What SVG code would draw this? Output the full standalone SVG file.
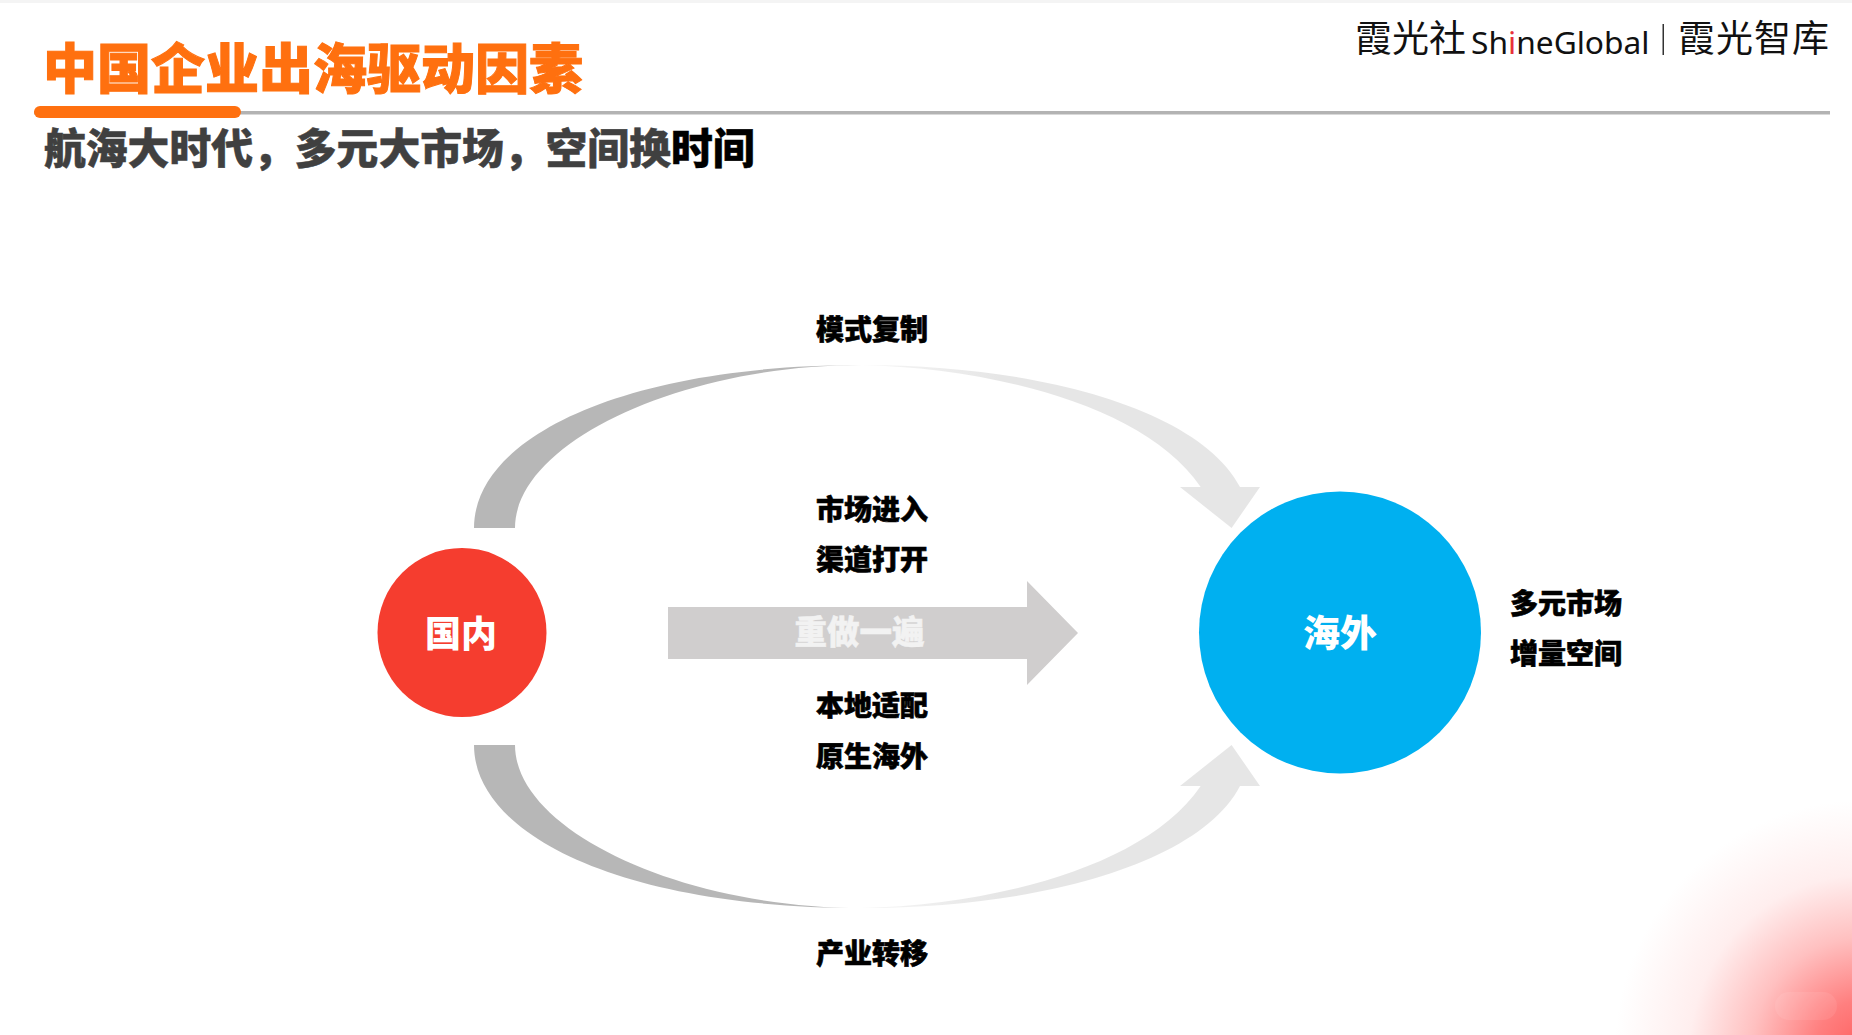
<svg xmlns="http://www.w3.org/2000/svg" width="1852" height="1035" viewBox="0 0 1852 1035">
<style>
text{font-family:"Noto Sans CJK SC","Noto Sans",sans-serif}
.lb{font-size:28px;font-weight:900;fill:#000;text-anchor:middle;stroke:#000;stroke-width:.6}
.nd{font-weight:900;fill:#fff;text-anchor:middle}
.logo{font-size:37px;font-weight:400;fill:#111}
.dark{fill:url(#fl)}.light{fill:url(#fr)}
</style>
<defs>
<radialGradient id="glow" gradientUnits="userSpaceOnUse" cx="1865" cy="1050" r="250">
<stop offset="0" stop-color="#ff5f5f"/><stop offset=".2" stop-color="#ff7f7f"/><stop offset=".45" stop-color="#ffc0c0"/><stop offset=".7" stop-color="#ffeeee"/><stop offset="1" stop-color="#fff"/>
</radialGradient>
<linearGradient id="fl" x1="474" x2="862" y1="0" y2="0" gradientUnits="userSpaceOnUse"><stop offset="0" stop-color="#b7b7b7"/><stop offset=".88" stop-color="#b7b7b7"/><stop offset="1" stop-color="#e0e0e0"/></linearGradient>
<linearGradient id="fr" x1="862" x2="1000" y1="0" y2="0" gradientUnits="userSpaceOnUse"><stop offset="0" stop-color="#f6f6f6"/><stop offset="1" stop-color="#e6e6e6"/></linearGradient>
</defs>
<rect width="1852" height="1035" fill="#fff"/>
<rect width="1852" height="3" fill="#f4f4f4"/>
<rect x="1500" y="760" width="352" height="275" fill="url(#glow)"/>
<rect x="1775" y="992" width="62" height="28" rx="14" fill="#fff" opacity=".08"/>
<g id="header">
<rect x="34" y="111" width="1796" height="3.5" fill="#b3b3b3"/>
<rect x="34" y="106" width="207" height="12" rx="6" fill="#ff700f"/>
<text x="43" y="89" font-size="54" font-weight="900" fill="#ff700f" stroke="#ff700f" stroke-width="1">中国企业出海驱动因素</text>
<text x="44" y="164" font-size="41.800" font-weight="900" fill="#404040" stroke="#404040" stroke-width=".5">航海大时代，多元大市场，空间换<tspan fill="#000" stroke="#000">时间</tspan></text>
</g>
<g id="logo">
<text class="logo" x="1355" y="52">霞光社</text>
<text x="1471" y="54" font-size="31.700" font-weight="400" fill="#111" style="font-family:'Noto Sans',sans-serif">Sh<tspan fill="#e8303a">i</tspan>neGlobal</text>
<rect x="1662.500" y="24" width="1.500" height="31" fill="#333"/>
<text class="logo" x="1678" y="52" font-size="38" style="letter-spacing:1px">霞光智库</text>
</g>
<g id="connectors">
<path class="dark" d="M474 528C474 438 622 365 862 365C680 365 515 443 515 528Z"/>
<path class="light" d="M862 365C1040 365 1200 410 1240 487H1260L1231.600 528L1180 487H1200.700C1145 405 990 368 862 365Z"/>
<path class="dark" d="M474 745C474 835 622 908 862 908C680 908 515 830 515 745Z"/>
<path class="light" d="M862 908C1040 908 1200 863 1240 786H1260L1231.600 745L1180 786H1200.700C1145 868 990 905 862 908Z"/>
<path d="M668 607H1027V581L1078 633L1027 685V659H668Z" fill="#d0cece"/>
<text x="859.500" y="644" font-size="32.500" font-weight="900" fill="#f2f2f2" stroke="#f2f2f2" stroke-width=".5" text-anchor="middle">重做一遍</text>
</g>
<g id="node-domestic"><circle cx="462" cy="632.500" r="84.500" fill="#f53d2f"/><text class="nd" x="461" y="647" font-size="36">国内</text></g>
<g id="node-overseas"><circle cx="1340" cy="632.500" r="141" fill="#00b0f0"/><text class="nd" x="1340" y="647" font-size="37">海外</text></g>
<g id="labels">
<text class="lb" x="872" y="340">模式复制</text>
<text class="lb" x="872" y="520">市场进入</text>
<text class="lb" x="872" y="570">渠道打开</text>
<text class="lb" x="872" y="716">本地适配</text>
<text class="lb" x="872" y="767">原生海外</text>
<text class="lb" x="872" y="964">产业转移</text>
<text class="lb" x="1566" y="614">多元市场</text>
<text class="lb" x="1566" y="664">增量空间</text>
</g>
</svg>
